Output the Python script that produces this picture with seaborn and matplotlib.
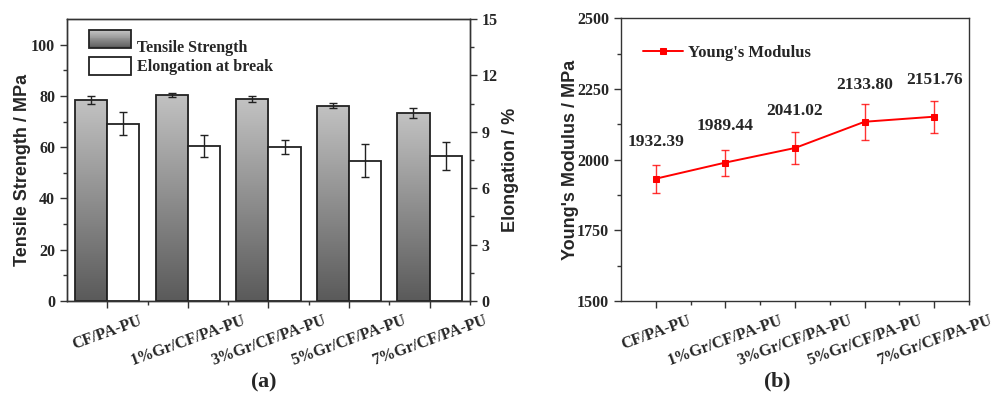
import numpy as np
import pandas as pd
import matplotlib
matplotlib.use("Agg")
import matplotlib.pyplot as plt
import seaborn as sns
from matplotlib.patches import Rectangle
from matplotlib.legend_handler import HandlerBase

samples = ["CF/PA-PU", "1%Gr/CF/PA-PU", "3%Gr/CF/PA-PU", "5%Gr/CF/PA-PU", "7%Gr/CF/PA-PU"]
tensile = [78.4, 80.4, 78.8, 76.2, 73.3]
tensile_err = [1.4, 0.8, 1.3, 1.0, 1.8]
elongation = [9.43, 8.23, 8.18, 7.46, 7.73]
elongation_err = [0.62, 0.59, 0.38, 0.88, 0.74]
modulus = [1932.39, 1989.44, 2041.02, 2133.80, 2151.76]
modulus_err = [49, 46, 55, 63, 57]

sns.set_style("ticks")
plt.rcParams["font.family"] = ["Liberation Serif", "DejaVu Serif"]
plt.rcParams["font.weight"] = "bold"
plt.rcParams["mathtext.fontset"] = "custom"
plt.rcParams["mathtext.rm"] = "Liberation Serif"
plt.rcParams["mathtext.bf"] = "Liberation Serif:bold"

hue_order = ["Tensile Strength", "Elongation at break"]
df_t = pd.DataFrame({"sample": samples, "value": tensile, "series": hue_order[0]})
df_e = pd.DataFrame({"sample": samples, "value": elongation, "series": hue_order[1]})
df_m = pd.DataFrame({"sample": samples, "value": modulus})

fig = plt.figure(figsize=(10.04, 3.96), dpi=100)
ax = fig.add_axes([0.0667, 0.240, 0.4013, 0.712])
ax2 = ax.twinx()
bx = fig.add_axes([0.6185, 0.240, 0.3466, 0.714])

edge = "#222222"
sns.barplot(data=df_t, x="sample", y="value", hue="series", hue_order=hue_order,
            palette=["#909090", "white"], width=0.8, dodge=True, edgecolor=edge,
            linewidth=1.3, ax=ax, legend=False, errorbar=None)
sns.barplot(data=df_e, x="sample", y="value", hue="series", hue_order=hue_order,
            palette=["#909090", "white"], width=0.8, dodge=True, edgecolor=edge,
            linewidth=1.3, ax=ax2, legend=False, errorbar=None)

# gradient fill for tensile bars
grad = np.linspace(0, 1, 256).reshape(-1, 1)
cmap = matplotlib.colors.LinearSegmentedColormap.from_list("g", ["#5a5a5a", "#c2c2c2"])
t_bars = [p for p in ax.patches if isinstance(p, Rectangle) and p.get_height() > 0]
for i, p in enumerate(t_bars):
    x0, w, h = p.get_x(), p.get_width(), p.get_height()
    im = ax.imshow(grad, extent=[x0, x0 + w, 0, h], origin="lower", cmap=cmap,
                   aspect="auto", zorder=p.get_zorder() - 0.1)
    im.set_clip_path(p)
    p.set_facecolor("none")
    ax.errorbar(x0 + w / 2, h, yerr=tensile_err[i], fmt="none",
                ecolor="#222222", elinewidth=1, capsize=3, capthick=1, zorder=5)
e_bars = [p for p in ax2.patches if isinstance(p, Rectangle) and p.get_height() > 0]
for i, p in enumerate(e_bars):
    ax2.errorbar(p.get_x() + p.get_width() / 2, p.get_height(), yerr=elongation_err[i],
                 fmt="none", ecolor="#222222", elinewidth=1, capsize=3, capthick=1, zorder=5)

ax.set_xlim(-0.5, 4.5)
ax.set_ylim(0, 110)
ax2.set_ylim(0, 15)
ax.set_yticks([0, 20, 40, 60, 80, 100])
ax.set_yticks(np.arange(10, 110, 20), minor=True)
ax2.set_yticks([0, 3, 6, 9, 12, 15])
ax2.set_yticks(np.arange(1.5, 15, 3), minor=True)
ax.set_xticks(range(5))
ax.set_xticks([0.5, 1.5, 2.5, 3.5, 4.5], minor=True)
ax.set_xticklabels(samples, rotation=20, ha="center", fontsize=11.5, fontweight="bold")
ax.set_xlabel("")
ax2.set_xlabel("")
ax.set_ylabel("Tensile Strength / MPa", family="Liberation Sans", fontweight="bold",
              fontsize=13)
ax.yaxis.set_label_coords(-0.089, 0.465)
ax2.set_ylabel("Elongation / %", family="Liberation Sans", fontweight="bold",
               fontsize=13)
ax2.yaxis.set_label_coords(1.079, 0.465)


class GradHandler(HandlerBase):
    def create_artists(self, legend, orig, xd, yd, w, h, fs, trans):
        arts = []
        n = 20
        cols = cmap(np.linspace(0, 1, n))
        for k in range(n):
            arts.append(Rectangle((xd, yd + h * k / n), w, h / n + 0.2, facecolor=cols[k],
                                  edgecolor="none", transform=trans))
        arts.append(Rectangle((xd, yd), w, h, facecolor="none", edgecolor=edge,
                              linewidth=1.3, transform=trans))
        return arts


h1 = Rectangle((0, 0), 1, 1)
h2 = Rectangle((0, 0), 1, 1, facecolor="white", edgecolor=edge, linewidth=1.3)
ax.legend([h1, h2], hue_order, handler_map={h1: GradHandler()}, loc="upper left",
          bbox_to_anchor=(0.02, 0.985), frameon=False, handlelength=2.6, handleheight=1.35,
          handletextpad=0.4, labelspacing=0.05, prop={"weight": "bold", "size": 11.5})

# panel b
sns.lineplot(data=df_m, x="sample", y="value", marker="s", color="red", markersize=5,
             markeredgecolor="red", linewidth=1.4, sort=False, ax=bx,
             label="Young's Modulus")
xs = bx.lines[0].get_xdata()
bx.errorbar(xs, modulus, yerr=modulus_err, fmt="none", ecolor="red", elinewidth=1,
            capsize=3, capthick=1, alpha=0.8)
for x, v in zip(xs, modulus):
    bx.text(x, v + 130, f"{v:.2f}", ha="center", va="center", fontsize=12.5,
            fontweight="bold")
bx.set_xlim(-0.5, 4.5)
bx.set_ylim(1500, 2500)
bx.set_yticks([1500, 1750, 2000, 2250, 2500])
bx.set_yticks(np.arange(1625, 2500, 250), minor=True)
bx.set_xticks(range(5))
bx.set_xticks([0.5, 1.5, 2.5, 3.5, 4.5], minor=True)
bx.set_xticklabels(samples, rotation=20, ha="center", fontsize=11.5, fontweight="bold")
bx.set_xlabel("")
bx.set_ylabel("Young's Modulus / MPa", family="Liberation Sans", fontweight="bold",
              fontsize=13)
bx.yaxis.set_label_coords(-0.120, 0.5)
bx.legend(loc="upper left", bbox_to_anchor=(0.02, 0.96), frameon=False, handlelength=2.4,
          handletextpad=0.3, prop={"weight": "bold", "size": 12})

for a in (ax, ax2, bx):
    for s in a.spines.values():
        s.set_visible(True)
        s.set_color("#333333")
        s.set_linewidth(1.0)
    a.tick_params(which="major", direction="out", length=5, width=1, color="#333333",
                  labelsize=11.5)
    a.tick_params(which="minor", direction="out", length=3, width=1, color="#333333")
ax.tick_params(which="both", right=False, top=False)
ax2.tick_params(which="both", left=False, top=False, bottom=False)
bx.tick_params(which="both", right=False, top=False)
for a in (ax, ax2, bx):
    for lab in a.get_yticklabels():
        lab.set_fontweight("bold")

fig.text(0.262, 0.035, r"($\mathbf{a}$)", ha="center", va="center", fontsize=16)
fig.text(0.774, 0.035, r"($\mathbf{b}$)", ha="center", va="center", fontsize=16)

fig.savefig("out.png", dpi=100, facecolor="white")
